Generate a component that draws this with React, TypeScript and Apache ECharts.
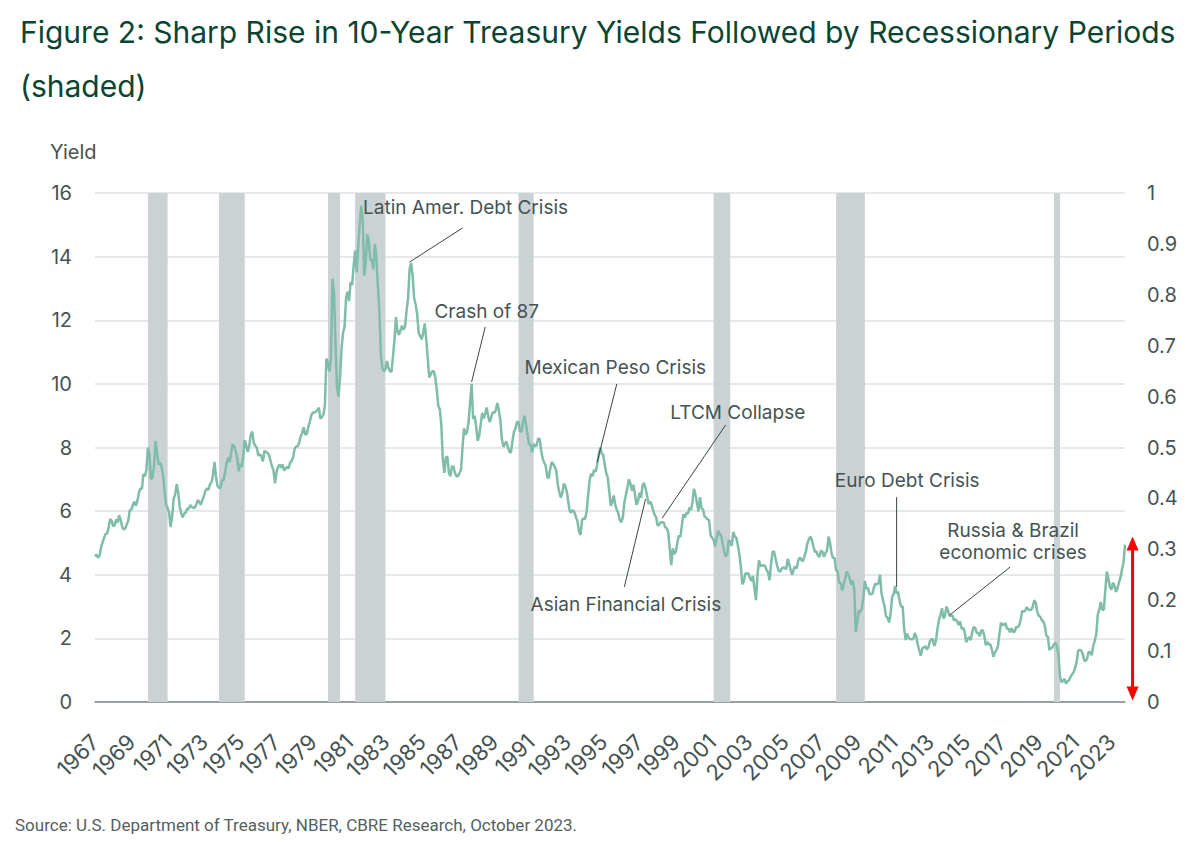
import React, { useEffect, useRef } from "react";
import * as echarts from "echarts";

const START_YEAR = 1967;

// Monthly 10-year Treasury yields (%)
const yields1967to1979 = [
  4.58, 4.63, 4.54, 4.59, 4.85, 5.02, 5.16, 5.28, 5.30, 5.48, 5.75, 5.70,
  5.53, 5.56, 5.74, 5.64, 5.87, 5.72, 5.50, 5.42, 5.46, 5.58, 5.70, 6.03,
  6.04, 6.19, 6.30, 6.17, 6.32, 6.57, 6.72, 6.69, 7.16, 7.10, 7.30, 8.00,
  7.79, 7.00, 7.07, 7.39, 8.20, 7.84, 7.46, 7.53, 7.39, 7.13, 6.64, 6.20,
  6.10, 5.95, 5.50, 5.83, 6.39, 6.52, 6.85, 6.58, 6.14, 5.93, 5.81, 5.93,
  5.95, 6.08, 6.07, 6.19, 6.13, 6.11, 6.11, 6.21, 6.35, 6.28, 6.20, 6.36,
  6.46, 6.64, 6.71, 6.67, 6.85, 6.90, 7.13, 7.55, 7.09, 6.79, 6.73, 6.74,
  6.99, 6.96, 7.21, 7.51, 7.68, 7.54, 7.81, 8.10, 8.04, 7.90, 7.68, 7.25,
  7.50, 7.39, 7.73, 8.23, 8.06, 7.86, 8.06, 8.40, 8.50, 8.14, 8.05, 8.00,
  7.74, 7.79, 7.73, 7.56, 7.90, 7.86, 7.83, 7.77, 7.59, 7.41, 7.29, 6.87,
  7.21, 7.39, 7.46, 7.37, 7.46, 7.28, 7.33, 7.40, 7.34, 7.52, 7.58, 7.69,
  7.96, 8.03, 8.04, 8.15, 8.35, 8.46, 8.64, 8.41, 8.42, 8.64, 8.81, 9.01,
  9.10, 9.10, 9.12, 9.18, 9.25, 8.91, 8.95, 9.03, 9.33, 10.80, 10.65, 10.39,
];
const yields1980s = [
  10.80, 13.30, 12.90, 11.30, 9.90, 9.60, 10.20, 11.10, 11.60, 11.80, 12.70, 12.90,
  12.60, 13.20, 13.10, 13.70, 14.20, 13.50, 14.30, 15.00, 15.60, 15.20, 13.40, 13.80,
  14.70, 14.50, 13.90, 13.90, 13.60, 14.40, 14.00, 13.10, 12.30, 10.90, 10.50, 10.40,
  10.46, 10.72, 10.51, 10.40, 10.38, 10.85, 11.38, 12.10, 11.65, 11.54, 11.69, 11.83,
  11.70, 11.80, 12.30, 12.70, 13.60, 13.80, 13.40, 12.70, 12.50, 12.20, 11.60, 11.50,
  11.40, 11.60, 11.90, 11.40, 10.80, 10.20, 10.30, 10.40, 10.40, 10.20, 9.80, 9.30,
  9.20, 8.70, 7.60, 7.20, 7.70, 7.70, 7.20, 7.10, 7.40, 7.40, 7.20, 7.10,
  7.10, 7.20, 7.30, 8.00, 8.60, 8.40, 8.50, 8.80, 9.40, 10.00, 8.90, 9.00,
  8.67, 8.21, 8.37, 8.72, 9.09, 8.92, 9.06, 9.26, 8.98, 8.80, 8.96, 9.11,
  9.09, 9.17, 9.40, 9.18, 8.86, 8.28, 8.02, 8.11, 8.19, 8.01, 7.87, 7.84,
];
const yields1990s = [
  8.20, 8.50, 8.60, 8.80, 8.80, 8.50, 8.50, 8.80, 9.00, 8.70, 8.40, 8.10,
  8.09, 7.85, 8.11, 8.04, 8.07, 8.28, 8.27, 7.90, 7.65, 7.53, 7.42, 7.09,
  7.03, 7.34, 7.54, 7.48, 7.39, 7.26, 6.84, 6.59, 6.42, 6.59, 6.87, 6.77,
  6.60, 6.26, 5.98, 5.97, 6.04, 5.96, 5.81, 5.68, 5.36, 5.25, 5.72, 5.77,
  5.75, 5.97, 6.48, 6.97, 7.18, 7.10, 7.30, 7.24, 7.46, 7.74, 8.00, 7.81,
  7.78, 7.47, 7.20, 7.06, 6.63, 6.17, 6.28, 6.49, 6.20, 6.04, 5.93, 5.71,
  5.65, 5.81, 6.27, 6.51, 6.74, 7.00, 6.87, 6.64, 6.83, 6.53, 6.20, 6.30,
  6.58, 6.42, 6.80, 6.89, 6.71, 6.49, 6.22, 6.30, 6.21, 6.03, 5.88, 5.81,
  5.54, 5.57, 5.65, 5.64, 5.65, 5.50, 5.46, 5.34, 4.81, 4.30, 4.83, 4.65,
  4.72, 5.00, 5.23, 5.18, 5.54, 5.90, 5.79, 5.94, 5.92, 6.11, 6.03, 6.28,
];
const yields2000s = [
  6.70, 6.52, 6.26, 5.99, 6.44, 6.10, 6.05, 5.83, 5.80, 5.74, 5.72, 5.24,
  5.16, 5.10, 4.89, 5.14, 5.39, 5.28, 5.24, 4.97, 4.73, 4.57, 4.65, 5.09,
  5.04, 4.91, 5.35, 5.21, 5.16, 4.93, 4.65, 4.26, 3.70, 3.80, 4.05, 4.03,
  4.05, 3.90, 3.81, 3.96, 3.57, 3.20, 3.98, 4.45, 4.27, 4.29, 4.30, 4.27,
  4.15, 4.08, 3.83, 4.35, 4.72, 4.73, 4.50, 4.28, 4.13, 4.10, 4.19, 4.23,
  4.22, 4.17, 4.50, 4.34, 4.14, 4.00, 4.18, 4.26, 4.20, 4.46, 4.54, 4.47,
  4.42, 4.57, 4.72, 4.99, 5.11, 5.20, 5.09, 4.88, 4.72, 4.73, 4.60, 4.56,
  4.76, 4.72, 4.56, 4.69, 4.75, 5.20, 5.00, 4.67, 4.52, 4.53, 4.15, 4.10,
  3.74, 3.74, 3.51, 3.68, 3.88, 4.10, 4.01, 3.89, 3.69, 3.81, 3.53, 2.20,
  2.52, 2.87, 2.82, 2.93, 3.29, 3.80, 3.56, 3.59, 3.40, 3.39, 3.40, 3.60,
];
const yields2010s = [
  3.73, 3.69, 3.73, 4.00, 3.42, 3.20, 3.01, 2.70, 2.65, 2.50, 2.76, 3.29,
  3.39, 3.65, 3.41, 3.46, 3.17, 3.00, 3.00, 2.30, 1.95, 2.15, 2.01, 1.98,
  1.97, 1.97, 2.17, 2.05, 1.80, 1.62, 1.45, 1.68, 1.72, 1.75, 1.65, 1.72,
  1.91, 1.98, 1.96, 1.76, 1.93, 2.30, 2.58, 2.74, 2.95, 2.62, 2.72, 3.00,
  2.86, 2.71, 2.72, 2.71, 2.56, 2.60, 2.54, 2.42, 2.53, 2.30, 2.33, 2.21,
  1.88, 1.98, 2.04, 1.94, 2.20, 2.36, 2.32, 2.17, 2.17, 2.07, 2.26, 2.24,
  2.09, 1.78, 1.89, 1.81, 1.81, 1.64, 1.42, 1.56, 1.63, 1.76, 2.14, 2.49,
  2.43, 2.42, 2.48, 2.30, 2.30, 2.19, 2.32, 2.21, 2.20, 2.36, 2.35, 2.40,
  2.58, 2.86, 2.84, 2.87, 2.98, 2.91, 2.89, 2.89, 3.00, 3.20, 3.12, 2.83,
  2.71, 2.68, 2.57, 2.53, 2.40, 2.07, 2.06, 1.63, 1.70, 1.71, 1.81, 1.86,
];
const yields2020s = [
  1.76, 1.50, 0.80, 0.62, 0.67, 0.73, 0.58, 0.65, 0.68, 0.79, 0.87, 0.93,
  1.08, 1.26, 1.61, 1.64, 1.62, 1.52, 1.32, 1.28, 1.37, 1.58, 1.56, 1.47,
  1.76, 1.93, 2.13, 2.75, 2.90, 3.14, 2.90, 2.90, 3.52, 4.10, 3.89, 3.62,
  3.53, 3.75, 3.66, 3.46, 3.57, 3.75, 3.90, 4.17, 4.38, 4.95,
];

const yields = [
  ...yields1967to1979,
  ...yields1980s,
  ...yields1990s,
  ...yields2000s,
  ...yields2010s,
  ...yields2020s,
];

const months = yields.map((_, i) => {
  const y = START_YEAR + Math.floor(i / 12);
  const m = (i % 12) + 1;
  return `${y}-${m < 10 ? "0" + m : m}`;
});

// Shaded recessionary periods (start month, end month), as drawn in the chart
const recessions: [string, string][] = [
  ["1969-12", "1971-01"],
  ["1973-11", "1975-04"],
  ["1979-11", "1980-07"],
  ["1981-05", "1983-01"],
  ["1990-05", "1991-03"],
  ["2001-02", "2002-01"],
  ["2007-11", "2009-06"],
  ["2019-11", "2020-03"],
];

const leftTicks = { min: 0, max: 16, interval: 2 };
const rightTicks = { min: 0, max: 1, interval: 0.1 };

// Annotations: label centre (year, yield) and leader line from (year, yield) to (year, yield)
type Ann = { lines: string[]; tx: number; ty: number; from: [number, number]; to: [number, number] };
const annotations: Ann[] = [
  { lines: ["Latin Amer. Debt Crisis"], tx: 1987.39, ty: 15.53, from: [1987.28, 14.9], to: [1984.36, 13.83] },
  { lines: ["Crash of 87"], tx: 1988.6, ty: 12.26, from: [1988.54, 11.79], to: [1987.77, 10.06] },
  { lines: ["Mexican Peso Crisis"], tx: 1995.7, ty: 10.5, from: [1995.76, 10.0], to: [1994.66, 7.54] },
  { lines: ["LTCM Collapse"], tx: 2002.43, ty: 9.09, from: [2001.77, 8.71], to: [1998.29, 5.78] },
  { lines: ["Asian Financial Crisis"], tx: 1996.26, ty: 3.08, from: [1996.2, 3.62], to: [1997.36, 6.38] },
  { lines: ["Euro Debt Crisis"], tx: 2011.74, ty: 6.95, from: [2011.13, 6.44], to: [2011.13, 3.62] },
  { lines: ["Russia & Brazil", "economic crises"], tx: 2017.58, ty: 5.03, from: [2017.41, 4.24], to: [2014.11, 2.73] },
];

// Red range arrow (year position, from yield, to yield)
const rangeArrow = { year: 2024.19, from: 0.05, to: 5.2 };

const TEXT = "#465353";
const FONT = "Inter, 'Noto Sans', sans-serif";

export default function App() {
  const ref = useRef<HTMLDivElement>(null);

  useEffect(() => {
    if (!ref.current) return;
    const chart = echarts.init(ref.current, null, { renderer: "svg" });

    const option: any = {
      animation: false,
      backgroundColor: "#ffffff",
      title: {
        text: "Figure 2: Sharp Rise in 10-Year Treasury Yields Followed by Recessionary Periods\n(shaded)",
        left: 15,
        top: 0,
        textStyle: {
          fontFamily: "Inter, sans-serif",
          fontSize: 30,
          fontWeight: 400,
          color: "#0a4433",
          lineHeight: 54,
        },
      },
      grid: { left: 95, right: 75, top: 193, bottom: 140 },
      xAxis: {
        type: "category",
        data: months,
        boundaryGap: false,
        axisLine: { lineStyle: { color: "#7d8787", width: 1.5 } },
        axisTick: { show: false },
        splitLine: { show: false },
        axisLabel: {
          interval: 23,
          rotate: 45,
          margin: 36,
          fontSize: 22,
          color: TEXT,
          fontFamily: FONT,
          formatter: (v: string) => v.slice(0, 4),
        },
      },
      yAxis: [
        {
          type: "value",
          ...leftTicks,
          axisLine: { show: false },
          axisTick: { show: false },
          splitLine: { lineStyle: { color: "#dde2e2", width: 1.5 } },
          axisLabel: { fontSize: 20, color: TEXT, fontFamily: FONT, margin: 23 },
        },
        {
          type: "value",
          position: "right",
          ...rightTicks,
          axisLine: { show: false },
          axisTick: { show: false },
          splitLine: { show: false },
          axisLabel: { fontSize: 20, color: TEXT, fontFamily: FONT, margin: 22 },
        },
      ],
      series: [
        {
          type: "line",
          data: months.map(() => null),
          z: 1,
          silent: true,
          showSymbol: false,
          markArea: {
            silent: true,
            itemStyle: { color: "#cbd2d4", opacity: 1 },
            data: recessions.map(([a, b]) => [{ xAxis: a }, { xAxis: b }]),
          },
        },
        {
          type: "line",
          data: yields,
          z: 3,
          showSymbol: false,
          symbol: "none",
          lineStyle: { color: "#7fbcaa", width: 2.5 },
        },
      ],
    };
    chart.setOption(option);

    const px = (yr: number, v: number): number[] =>
      chart.convertToPixel({ xAxisIndex: 0, yAxisIndex: 0 }, [(yr - START_YEAR) * 12, v]) as number[];

    const graphics: any[] = [
      {
        type: "text",
        left: 50,
        top: 142,
        style: { text: "Yield", fontSize: 20, fill: TEXT, fontFamily: FONT },
      },
      {
        type: "text",
        left: 15,
        top: 816,
        style: { text: "Source: U.S. Department of Treasury, NBER, CBRE Research, October 2023.", fontSize: 17, fill: "#555f5f", fontFamily: "Roboto, sans-serif" },
      },
    ];

    annotations.forEach((a) => {
      const [tx, ty] = px(a.tx, a.ty);
      const [x1, y1] = px(a.from[0], a.from[1]);
      const [x2, y2] = px(a.to[0], a.to[1]);
      graphics.push({
        type: "line",
        z: 10,
        shape: { x1, y1, x2, y2 },
        style: { stroke: "#3a4545", lineWidth: 1 },
      });
      graphics.push({
        type: "text",
        z: 10,
        x: tx,
        y: ty,
        style: {
          text: a.lines.join("\n"),
          fontSize: 19,
          lineHeight: 22,
          fill: TEXT,
          fontFamily: FONT,
          align: "center",
          verticalAlign: "middle",
        },
      });
    });

    const [ax, ay0] = px(rangeArrow.year, rangeArrow.from);
    const [, ay1] = px(rangeArrow.year, rangeArrow.to);
    const head = 14;
    const hw = 6;
    graphics.push({
      type: "line",
      z: 10,
      shape: { x1: ax, y1: ay0 - head + 2, x2: ax, y2: ay1 + head - 2 },
      style: { stroke: "#ff0000", lineWidth: 3 },
    });
    graphics.push({
      type: "polygon",
      z: 10,
      shape: { points: [[ax, ay1], [ax - hw, ay1 + head], [ax + hw, ay1 + head]] },
      style: { fill: "#ff0000" },
    });
    graphics.push({
      type: "polygon",
      z: 10,
      shape: { points: [[ax, ay0], [ax - hw, ay0 - head], [ax + hw, ay0 - head]] },
      style: { fill: "#ff0000" },
    });

    chart.setOption({ graphic: graphics });

    return () => chart.dispose();
  }, []);

  return <div ref={ref} style={{ width: 1200, height: 842, position: "absolute", left: 0, top: 0 }} />;
}
